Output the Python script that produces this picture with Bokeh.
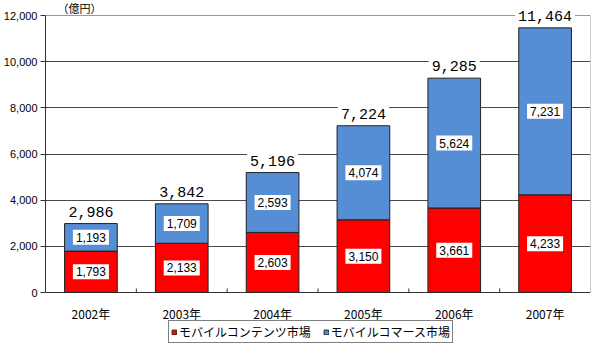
from bokeh.plotting import figure
from bokeh.models import (Range1d, FixedTicker, ColumnDataSource,
                          Legend, LegendItem, NumeralTickFormatter, Label)
from bokeh.core.properties import value
from bokeh.embed import file_html
from bokeh.resources import INLINE

years = ["2002年", "2003年", "2004年", "2005年", "2006年", "2007年"]
content = [1793, 2133, 2603, 3150, 3661, 4233]
commerce = [1193, 1709, 2593, 4074, 5624, 7231]
totals = [2986, 3842, 5196, 7224, 9285, 11464]
y_ticks = [0, 2000, 4000, 6000, 8000, 10000, 12000]
unit_label = "（億円）"
legend_labels = ["モバイルコンテンツ市場", "モバイルコマース市場"]

RED = "#FF0000"
BLUE = "#558ED5"
JP = "Noto Sans CJK JP"

# layout (pixels): plotting box 277 px tall for 0..12000,
# 15 px headroom above it, 51 px below it for year labels + legend
BOX_H, HEAD, FOOT = 277, 15, 51
upp = y_ticks[-1] / BOX_H            # data units per pixel
y_lo = -FOOT * upp
y_hi = y_ticks[-1] + HEAD * upp
TICK_LEN = 4 * upp
n = len(years)

xs = [i + 0.5 for i in range(n)]
bounds = list(range(1, n))
src = ColumnDataSource(dict(
    x=xs,
    year=years,
    zero=[0] * n,
    content=content,
    commerce=commerce,
    total=[c + m for c, m in zip(content, commerce)],
    content_mid=[c / 2 for c in content],
    commerce_mid=[c + m / 2 for c, m in zip(content, commerce)],
    content_txt=[f"{v:,}" for v in content],
    commerce_txt=[f"{v:,}" for v in commerce],
    total_txt=[f"{v:,}" for v in totals],
    total_y=totals,
))

p = figure(frame_width=545, frame_height=BOX_H + HEAD + FOOT,
           x_range=Range1d(0, n),
           y_range=Range1d(y_lo, y_hi),
           output_backend="svg", toolbar_location=None,
           x_axis_location=None,
           min_border_left=41, min_border_right=3,
           min_border_top=0, min_border_bottom=0)

p.outline_line_color = None
p.xgrid.visible = False
p.ygrid.ticker = FixedTicker(ticks=y_ticks[1:-1])
p.ygrid.grid_line_color = "#4a4a4a"

# grey top and right border of the plotting box
p.segment(x0=[0, n], y0=[y_ticks[-1], y_ticks[0]],
          x1=[n, n], y1=[y_ticks[-1], y_ticks[-1]],
          line_color="#999999", line_width=1)
# x axis line and short inside ticks at category boundaries
p.segment(x0=[0], y0=[y_ticks[0]], x1=[n], y1=[y_ticks[0]],
          line_color="#333333", line_width=1)
p.segment(x0=bounds, y0=[y_ticks[0]] * len(bounds),
          x1=bounds, y1=[TICK_LEN] * len(bounds),
          line_color="#333333", line_width=1)

# y axis
ya = p.yaxis[0]
ya.ticker = FixedTicker(ticks=y_ticks)
ya.bounds = (y_ticks[0], y_ticks[-1])
ya.formatter = NumeralTickFormatter(format="0,0")
ya.minor_tick_line_color = None
ya.major_tick_in = 0
ya.major_tick_out = 5
ya.major_tick_line_color = "#333333"
ya.axis_line_color = "#333333"
ya.major_label_standoff = 3
ya.major_label_text_font = "Liberation Sans"
ya.major_label_text_font_size = "11px"
ya.major_label_text_color = "black"

bw = 0.58
r1 = p.vbar(x="x", bottom=0, top="content", width=bw, source=src,
            fill_color=RED, line_color="#222222", line_width=1)
r2 = p.vbar(x="x", bottom="content", top="total", width=bw, source=src,
            fill_color=BLUE, line_color="#222222", line_width=1)

# year labels under the axis
p.text(x="x", y="zero", text="year", source=src, y_offset=21,
       text_font=value(JP), text_font_size="12px", text_color="black",
       text_align="center", text_baseline="middle")

common = dict(text_font=value("Liberation Sans"), text_font_size="12px",
              text_color="black", text_align="center", text_baseline="middle",
              background_fill_color="white", padding=3)
p.text(x="x", y="content_mid", text="content_txt", source=src, **common)
p.text(x="x", y="commerce_mid", text="commerce_txt", source=src, **common)

p.text(x="x", y="total_y", text="total_txt", source=src,
       text_font=value("Liberation Mono"), text_font_size="15px",
       text_color="black", text_align="center", text_baseline="middle",
       y_offset=-12, background_fill_color="white", padding=3)

p.add_layout(Label(x=0, y=y_ticks[-1], text=unit_label, x_offset=12, y_offset=8,
                   text_font=JP, text_font_size="11px", text_color="black",
                   text_baseline="middle"))

legend = Legend(items=[LegendItem(label=legend_labels[0], renderers=[r1]),
                       LegendItem(label=legend_labels[1], renderers=[r2])],
                orientation="horizontal", location=(123, 0),
                label_text_font=JP, label_text_font_size="12px",
                label_text_color="black",
                glyph_width=6, glyph_height=6, label_standoff=2,
                spacing=12, padding=2, margin=0,
                label_height=12,
                border_line_color="black", border_line_width=1,
                background_fill_color="white")
p.add_layout(legend)

open("out.html", "w").write(file_html(p, INLINE))
